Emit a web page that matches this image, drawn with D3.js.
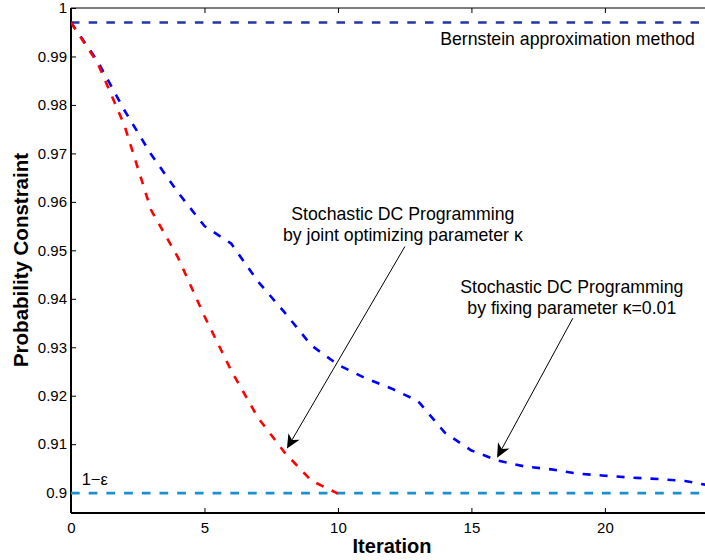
<!DOCTYPE html>
<html>
<head>
<meta charset="utf-8">
<script src="https://cdn.jsdelivr.net/npm/d3@7"></script>
<style>
  body { margin: 0; background: #fff; }
  svg { display: block; font-family: "Liberation Sans", Arial, Helvetica, sans-serif; }
</style>
</head>
<body>
<div id="chart"></div>
<script>
// iterations and probability constraint values
var iterBlue = [0,1,2,3,4,5,6,7,8,9,10,11,12,13,14,15,16,17,18,19,20,21,22,23,24];
var probBlue = [0.997,0.9890,0.9789,0.9698,0.9620,0.9550,0.9514,0.9436,0.9372,0.9304,0.9264,0.9237,
                0.9215,0.9189,0.9124,0.9087,0.9066,0.9054,0.9048,0.9039,0.9035,0.9031,0.9028,0.9024,0.9014];
var iterRed = [0,1,2,3,4,5,6,7,8,9,10];
var probRed = [0.997,0.9886,0.9758,0.9583,0.9486,0.9364,0.9252,0.9155,0.9083,0.9025,0.8998];

var bernsteinLevel = 0.997;
var epsLevel = 0.8999;

var xTicks = [0,5,10,15,20];
var yTicks = [0.9,0.91,0.92,0.93,0.94,0.95,0.96,0.97,0.98,0.99,1];

// annotations: [x, y] in data units
var arrowJoint = {from:[12.51,0.9508], to:[8.09,0.9091]};
var arrowFixed = {from:[18.80,0.9360], to:[15.96,0.9072]};
var labelJoint = {at:[12.43,0.9562], lines:["Stochastic DC Programming","by joint optimizing parameter \u03BA"]};
var labelFixed = {at:[18.76,0.9411], lines:["Stochastic DC Programming","by fixing parameter \u03BA=0.01"]};
var labelBern = {at:[23.37,0.9924], text:"Bernstein approximation method"};
var labelEps = {at:[0.40,0.90165], text:"1\u2212\u03B5"};

var W = 705, H = 560;
var margin = {top: 8, right: 0, bottom: 47, left: 71};
var w = W - margin.left - margin.right,
    h = H - margin.top - margin.bottom;

var xscale = d3.scaleLinear().domain([0, 23.75]).range([0, w]);
var yscale = d3.scaleLinear().domain([0.8958, 1]).range([h, 0]);

var svg = d3.select("#chart").append("svg")
    .attr("width", W)
    .attr("height", H);

svg.append("defs").append("clipPath").attr("id", "clip")
  .append("rect").attr("x", 0).attr("y", -2).attr("width", w).attr("height", h + 2);

var g = svg.append("g").attr("transform", "translate(" + margin.left + "," + margin.top + ")");

// axes, ticks inward like matlab
var tickStyle = function(sel){
  sel.select(".domain").remove();
  sel.selectAll("line").attr("stroke", "#000").attr("stroke-width", 1);
  sel.selectAll("text").attr("fill", "#000").style("font-size", "15px");
};

g.append("g")
  .attr("transform", "translate(0," + h + ")")
  .call(d3.axisBottom(xscale).tickValues(xTicks).tickSizeInner(-5).tickSizeOuter(0).tickPadding(9))
  .call(tickStyle);

g.append("g")
  .call(d3.axisTop(xscale).tickValues(xTicks.slice(1)).tickSizeInner(-5).tickSizeOuter(0).tickFormat(""))
  .call(tickStyle);

g.append("g")
  .call(d3.axisLeft(yscale).tickValues(yTicks).tickSizeInner(-5).tickSizeOuter(0).tickPadding(4)
        .tickFormat(function(d){ return String(+d.toFixed(2)); }))
  .call(tickStyle);

// frame lines
g.append("line").attr("x1", 0).attr("x2", 0).attr("y1", 0).attr("y2", h)
  .attr("stroke", "#000").attr("stroke-width", 2);
g.append("line").attr("x1", 0).attr("x2", w).attr("y1", h).attr("y2", h)
  .attr("stroke", "#000").attr("stroke-width", 2);
g.append("line").attr("x1", 0).attr("x2", w).attr("y1", 0).attr("y2", 0)
  .attr("stroke", "#000").attr("stroke-width", 1.2);

var plot = g.append("g").attr("clip-path", "url(#clip)");

// reference levels
plot.append("line")
  .attr("x1", xscale(0)).attr("x2", w)
  .attr("y1", yscale(bernsteinLevel)).attr("y2", yscale(bernsteinLevel))
  .attr("stroke", "#2137a4").attr("stroke-width", 2.6).attr("stroke-dasharray", "8.5,9.2");

plot.append("line")
  .attr("x1", xscale(0)).attr("x2", w)
  .attr("y1", yscale(epsLevel)).attr("y2", yscale(epsLevel))
  .attr("stroke", "#1a8fd2").attr("stroke-width", 2.6).attr("stroke-dasharray", "8.7,9");

var line = d3.line()
  .x(function(d){ return xscale(d[0]); })
  .y(function(d){ return yscale(d[1]); });

plot.append("path")
  .datum(iterBlue.map(function(it, i){ return [it, probBlue[i]]; }))
  .attr("d", line)
  .attr("fill", "none").attr("stroke", "#0000ff").attr("stroke-width", 2.6)
  .attr("stroke-dasharray", "8,9");

plot.append("path")
  .datum(iterRed.map(function(it, i){ return [it, probRed[i]]; }))
  .attr("d", line)
  .attr("fill", "none").attr("stroke", "#ff0000").attr("stroke-width", 2.6)
  .attr("stroke-dasharray", "8,9");

// arrows with matlab style heads
function drawArrow(a){
  var x1 = xscale(a.from[0]), y1 = yscale(a.from[1]),
      x2 = xscale(a.to[0]), y2 = yscale(a.to[1]);
  var ang = Math.atan2(y2 - y1, x2 - x1);
  var L = 14, Wd = 6.5, back = 10;
  var ux = Math.cos(ang), uy = Math.sin(ang);
  var px = -uy, py = ux;
  g.append("line")
    .attr("x1", x1).attr("y1", y1)
    .attr("x2", x2 - ux * back).attr("y2", y2 - uy * back)
    .attr("stroke", "#000").attr("stroke-width", 1);
  var pts = [
    [x2, y2],
    [x2 - ux * L + px * Wd, y2 - uy * L + py * Wd],
    [x2 - ux * back, y2 - uy * back],
    [x2 - ux * L - px * Wd, y2 - uy * L - py * Wd]
  ];
  g.append("path")
    .attr("d", "M" + pts.map(function(p){ return p.join(","); }).join("L") + "Z")
    .attr("fill", "#000");
}
drawArrow(arrowJoint);
drawArrow(arrowFixed);

function drawLabel(lb){
  var t = g.append("text")
    .attr("x", xscale(lb.at[0])).attr("y", yscale(lb.at[1]))
    .attr("text-anchor", "middle").style("font-size", "17.7px").attr("fill", "#000");
  lb.lines.forEach(function(s, i){
    t.append("tspan").attr("x", xscale(lb.at[0])).attr("dy", i ? 20.5 : 0).text(s);
  });
}
drawLabel(labelJoint);
drawLabel(labelFixed);

g.append("text")
  .attr("x", xscale(labelBern.at[0])).attr("y", yscale(labelBern.at[1]))
  .attr("text-anchor", "end").style("font-size", "17.7px").text(labelBern.text);

g.append("text")
  .attr("x", xscale(labelEps.at[0])).attr("y", yscale(labelEps.at[1]))
  .style("font-size", "16.5px").text(labelEps.text);

// axis titles
svg.append("text")
  .attr("x", 392).attr("y", 553)
  .attr("text-anchor", "middle").style("font-size", "20px").style("font-weight", "bold")
  .text("Iteration");

svg.append("text")
  .attr("transform", "translate(28,260) rotate(-90)")
  .attr("text-anchor", "middle").style("font-size", "20.5px").style("font-weight", "bold")
  .text("Probability Constraint");
</script>
</body>
</html>
